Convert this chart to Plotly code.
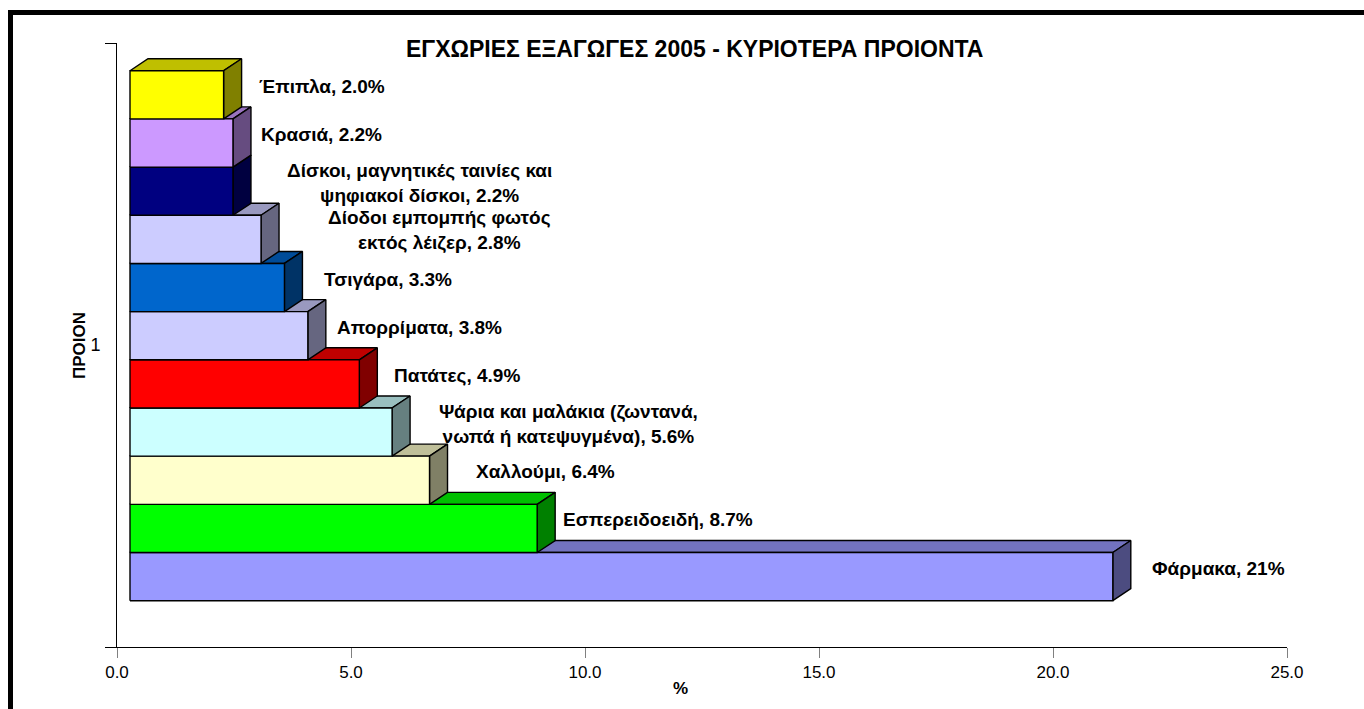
import plotly.graph_objects as go

# ---------------- data (bottom bar first) ----------------
products = [
    "Φάρμακα",
    "Εσπερειδοειδή",
    "Χαλλούμι",
    "Ψάρια και μαλάκια (ζωντανά,<br>νωπά ή κατεψυγμένα)",
    "Πατάτες",
    "Απορρίματα",
    "Τσιγάρα",
    "Δίοδοι εμπομπής φωτός<br>εκτός λέιζερ",
    "Δίσκοι, μαγνητικές ταινίες και<br>ψηφιακοί δίσκοι",
    "Κρασιά",
    "Έπιπλα",
]
values = [21.0, 8.7, 6.4, 5.6, 4.9, 3.8, 3.3, 2.8, 2.2, 2.2, 2.0]
value_text = ["21%", "8.7%", "6.4%", "5.6%", "4.9%", "3.8%", "3.3%", "2.8%", "2.2%", "2.2%", "2.0%"]
x_ticks = [0, 5, 10, 15, 20, 25]
category_label = ["1"]

# ---------------- style ----------------
front_colors = ["#9999FF", "#00FF00", "#FFFFCC", "#CCFFFF", "#FF0000", "#CCCCFF",
                "#0066CC", "#CCCCFF", "#000080", "#CC99FF", "#FFFF00"]
top_colors = ["#7373BF", "#00BF00", "#BFBF99", "#99BFBF", "#BF0000", "#9999BF",
              "#004C99", "#9999BF", "#000060", "#9973BF", "#BFBF00"]
side_colors = ["#4C4C80", "#008000", "#808066", "#668080", "#800000", "#666680",
               "#003366", "#666680", "#000040", "#664C80", "#808000"]
label_gap_px = [37, 24, 44, 45, 33, 27, 38, 65, 52, 26, 33]

W, H = 1364, 709
L, R, T, B = 117, 77, 43, 62
XMAX = 25.0
px_per_x = (W - L - R) / XMAX
bar_px = 48.18
px_per_y = bar_px
y_lo = -46.3 / bar_px
y_hi = y_lo + (H - T - B) / bar_px

x_off = 13 / px_per_x       # 3D floor offset
ddx = 18 / px_per_x         # depth in x
ddy = 12 / px_per_y         # depth in y

FONT = "Liberation Sans, Arial, sans-serif"

fig = go.Figure()
edge = dict(color="black", width=1.4)

for i, v in enumerate(values):
    x0 = x_off
    x1 = x_off + v
    y0 = i
    y1 = i + 1
    # top face
    fig.add_trace(go.Scatter(
        x=[x0, x1, x1 + ddx, x0 + ddx, x0], y=[y1, y1, y1 + ddy, y1 + ddy, y1],
        fill="toself", fillcolor=top_colors[i], mode="lines", line=edge,
        hoverinfo="skip", showlegend=False))
    # side face
    fig.add_trace(go.Scatter(
        x=[x1, x1 + ddx, x1 + ddx, x1, x1], y=[y0, y0 + ddy, y1 + ddy, y1, y0],
        fill="toself", fillcolor=side_colors[i], mode="lines", line=edge,
        hoverinfo="skip", showlegend=False))
    # front face
    fig.add_trace(go.Scatter(
        x=[x0, x1, x1, x0, x0], y=[y0, y0, y1, y1, y0],
        fill="toself", fillcolor=front_colors[i], mode="lines", line=edge,
        hoverinfo="skip", showlegend=False))
    fig.add_annotation(
        x=x1, y=i + 0.5 + 0.176, xref="x", yref="y",
        text=f"{products[i]}, {value_text[i]}",
        showarrow=False, xanchor="left", yanchor="middle", align="center",
        xshift=label_gap_px[i],
        font=dict(family=FONT, size=19, color="black", weight="bold"))

def px_to_paper_x(px):
    return (px - L) / (W - L - R)

def px_to_paper_y(py):
    return (H - B - py) / (H - T - B)

# title
fig.add_annotation(
    x=px_to_paper_x(694), y=px_to_paper_y(49), xref="paper", yref="paper",
    text="ΕΓΧΩΡΙΕΣ ΕΞΑΓΩΓΕΣ 2005 - ΚΥΡΙΟΤΕΡΑ ΠΡΟΙΟΝΤΑ", showarrow=False,
    xanchor="center", yanchor="middle",
    font=dict(family=FONT, size=23, color="black", weight="bold"))
# axis titles
fig.add_annotation(
    x=px_to_paper_x(680), y=px_to_paper_y(688), xref="paper", yref="paper",
    text="%", showarrow=False, xanchor="center", yanchor="middle",
    font=dict(family=FONT, size=17, color="black", weight="bold"))
fig.add_annotation(
    x=px_to_paper_x(79), y=px_to_paper_y(346), xref="paper", yref="paper",
    text="ΠΡΟΙΟΝ", textangle=-90, showarrow=False, xanchor="center", yanchor="middle",
    font=dict(family=FONT, size=17, color="black", weight="bold"))

# outer frame
fig.add_shape(type="rect", xref="paper", yref="paper",
              x0=px_to_paper_x(10.5), x1=px_to_paper_x(1400),
              y0=px_to_paper_y(740), y1=px_to_paper_y(12.5),
              line=dict(color="black", width=5), fillcolor="rgba(0,0,0,0)", layer="above")

fig.update_layout(
    width=W, height=H,
    margin=dict(l=L, r=R, t=T, b=B, autoexpand=False),
    paper_bgcolor="white", plot_bgcolor="white",
    font=dict(family=FONT, color="black"),
    showlegend=False,
    xaxis=dict(
        range=[0, XMAX], tickmode="array", tickvals=x_ticks,
        ticktext=[f"{t:.1f}" for t in x_ticks],
        ticks="outside", ticklen=10, tickcolor="#808080", tickwidth=1,
        showline=True, linecolor="black", linewidth=1,
        showgrid=False, zeroline=False,
        tickfont=dict(family=FONT, size=17, color="black"),
        fixedrange=True,
    ),
    yaxis=dict(
        range=[y_lo, y_hi], tickmode="array", tickvals=[(y_lo + y_hi) / 2],
        ticktext=category_label, ticks="", ticklabelstandoff=12,
        minor=dict(tickmode="array", tickvals=[y_lo, y_hi], ticks="outside",
                   ticklen=11, tickcolor="black", tickwidth=1),
        showline=True, linecolor="black", linewidth=1,
        showgrid=False, zeroline=False,
        tickfont=dict(family=FONT, size=18, color="black"),
        fixedrange=True,
    ),
)

fig.write_html(
    "out.html",
    config={"displayModeBar": False},
    post_script="document.body.style.margin='0';document.body.style.overflow='hidden';",
)
